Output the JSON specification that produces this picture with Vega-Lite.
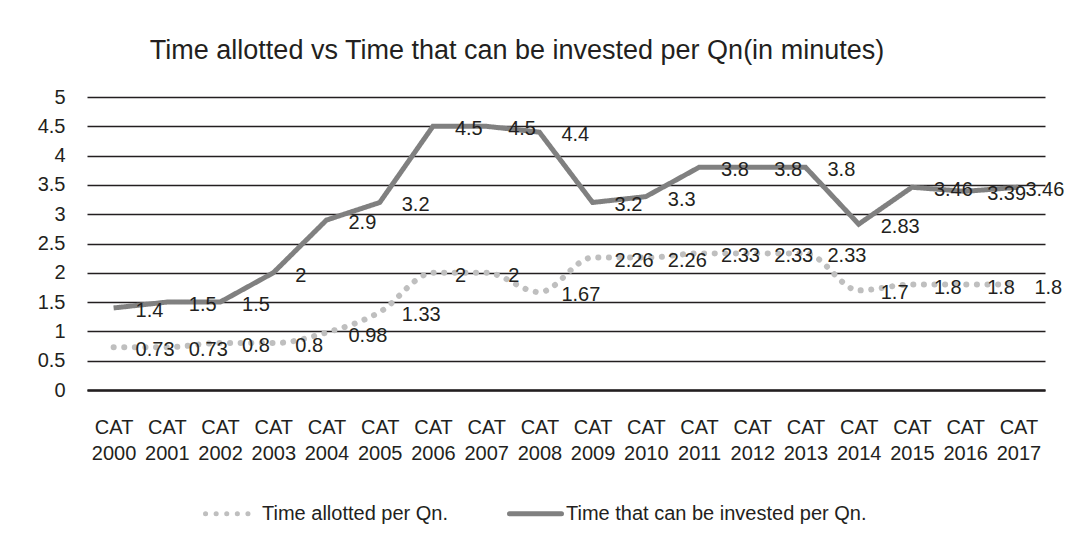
{
  "$schema": "https://vega.github.io/schema/vega-lite/v6.json",
  "width": 958,
  "height": 293,
  "autosize": {"type": "none"},
  "padding": {"left": 87, "top": 97, "right": 20, "bottom": 157},
  "background": "white",
  "title": {
    "text": "Time allotted vs Time that can be invested per Qn(in minutes)",
    "anchor": "middle",
    "frame": "group",
    "dx": -49,
    "dy": 38,
    "offset": 33,
    "baseline": "bottom",
    "fontSize": 27,
    "fontWeight": "normal",
    "font": "Liberation Sans",
    "color": "#231f20"
  },
  "config": {
    "view": {"stroke": null},
    "font": "Liberation Sans",
    "axis": {"labelColor": "#231f20", "labelFont": "Liberation Sans"},
    "legend": {"labelFont": "Liberation Sans"}
  },
  "data": {
    "values": [
      {"cat": "CAT 2000", "series": "Time allotted per Qn.", "value": 0.73},
      {"cat": "CAT 2001", "series": "Time allotted per Qn.", "value": 0.73},
      {"cat": "CAT 2002", "series": "Time allotted per Qn.", "value": 0.8},
      {"cat": "CAT 2003", "series": "Time allotted per Qn.", "value": 0.8},
      {"cat": "CAT 2004", "series": "Time allotted per Qn.", "value": 0.98},
      {"cat": "CAT 2005", "series": "Time allotted per Qn.", "value": 1.33},
      {"cat": "CAT 2006", "series": "Time allotted per Qn.", "value": 2},
      {"cat": "CAT 2007", "series": "Time allotted per Qn.", "value": 2},
      {"cat": "CAT 2008", "series": "Time allotted per Qn.", "value": 1.67},
      {"cat": "CAT 2009", "series": "Time allotted per Qn.", "value": 2.26},
      {"cat": "CAT 2010", "series": "Time allotted per Qn.", "value": 2.26},
      {"cat": "CAT 2011", "series": "Time allotted per Qn.", "value": 2.33},
      {"cat": "CAT 2012", "series": "Time allotted per Qn.", "value": 2.33},
      {"cat": "CAT 2013", "series": "Time allotted per Qn.", "value": 2.33},
      {"cat": "CAT 2014", "series": "Time allotted per Qn.", "value": 1.7},
      {"cat": "CAT 2015", "series": "Time allotted per Qn.", "value": 1.8},
      {"cat": "CAT 2016", "series": "Time allotted per Qn.", "value": 1.8},
      {"cat": "CAT 2017", "series": "Time allotted per Qn.", "value": 1.8},
      {"cat": "CAT 2000", "series": "Time that can be invested per Qn.", "value": 1.4},
      {"cat": "CAT 2001", "series": "Time that can be invested per Qn.", "value": 1.5},
      {"cat": "CAT 2002", "series": "Time that can be invested per Qn.", "value": 1.5},
      {"cat": "CAT 2003", "series": "Time that can be invested per Qn.", "value": 2},
      {"cat": "CAT 2004", "series": "Time that can be invested per Qn.", "value": 2.9},
      {"cat": "CAT 2005", "series": "Time that can be invested per Qn.", "value": 3.2},
      {"cat": "CAT 2006", "series": "Time that can be invested per Qn.", "value": 4.5},
      {"cat": "CAT 2007", "series": "Time that can be invested per Qn.", "value": 4.5},
      {"cat": "CAT 2008", "series": "Time that can be invested per Qn.", "value": 4.4},
      {"cat": "CAT 2009", "series": "Time that can be invested per Qn.", "value": 3.2},
      {"cat": "CAT 2010", "series": "Time that can be invested per Qn.", "value": 3.3},
      {"cat": "CAT 2011", "series": "Time that can be invested per Qn.", "value": 3.8},
      {"cat": "CAT 2012", "series": "Time that can be invested per Qn.", "value": 3.8},
      {"cat": "CAT 2013", "series": "Time that can be invested per Qn.", "value": 3.8},
      {"cat": "CAT 2014", "series": "Time that can be invested per Qn.", "value": 2.83},
      {"cat": "CAT 2015", "series": "Time that can be invested per Qn.", "value": 3.46},
      {"cat": "CAT 2016", "series": "Time that can be invested per Qn.", "value": 3.39},
      {"cat": "CAT 2017", "series": "Time that can be invested per Qn.", "value": 3.46}
    ]
  },
  "encoding": {
    "x": {
      "field": "cat",
      "type": "ordinal",
      "sort": null,
      "title": null,
      "axis": {
        "labelAngle": 0,
        "labelExpr": "split(datum.label, ' ')",
        "labelFontSize": 20,
        "labelLineHeight": 26.5,
        "labelPadding": 27,
        "labelBaseline": "top",
        "ticks": false,
        "grid": false,
        "domain": true,
        "domainColor": "#231f20",
        "domainWidth": 2.5
      }
    },
    "y": {
      "field": "value",
      "type": "quantitative",
      "title": null,
      "scale": {"domain": [0, 5], "nice": false, "zero": true},
      "axis": {
        "values": [0, 0.5, 1, 1.5, 2, 2.5, 3, 3.5, 4, 4.5, 5],
        "format": "~g",
        "labelFontSize": 20,
        "labelPadding": 22,
        "ticks": false,
        "domain": false,
        "grid": true,
        "gridColor": "#231f20",
        "gridWidth": 1.4,
        "gridOpacity": 1
      }
    }
  },
  "layer": [
    {
      "transform": [{"filter": "datum.series === 'Time allotted per Qn.'"}],
      "mark": {"type": "line", "interpolate": "monotone", "strokeWidth": 6, "strokeCap": "round"},
      "encoding": {
        "color": {
          "field": "series",
          "type": "nominal",
          "scale": {
            "domain": ["Time allotted per Qn.", "Time that can be invested per Qn."],
            "range": ["#bfbfbf", "#808080"]
          },
          "legend": {
            "title": null,
            "orient": "none",
            "legendX": 116,
            "legendY": 388,
            "direction": "horizontal",
            "symbolType": "stroke",
            "symbolSize": 2704,
            "symbolStrokeWidth": 5,
            "labelFontSize": 20,
            "labelColor": "#231f20",
            "labelOffset": 2,
            "columnPadding": 50,
            "labelLimit": 500,
            "encoding": {"symbols": {"strokeCap": {"value": "round"}}}
          }
        },
        "strokeDash": {
          "field": "series",
          "type": "nominal",
          "scale": {
            "domain": ["Time allotted per Qn.", "Time that can be invested per Qn."],
            "range": [[0.1, 10.5], [1, 0]]
          },
          "legend": null
        }
      }
    },
    {
      "transform": [{"filter": "datum.series !== 'Time allotted per Qn.'"}],
      "mark": {"type": "line", "interpolate": "linear", "strokeWidth": 5, "strokeCap": "butt"},
      "encoding": {
        "color": {"field": "series", "type": "nominal"},
        "strokeDash": {"field": "series", "type": "nominal"}
      }
    },
    {
      "mark": {
        "type": "text",
        "align": "left",
        "baseline": "middle",
        "dx": {"expr": "datum.cat === 'CAT 2017' ? (datum.value > 3 ? 7 : 16) : 22"},
        "dy": 3,
        "fontSize": 20,
        "color": "#231f20"
      },
      "encoding": {
        "text": {"field": "value", "type": "quantitative", "format": "~g"}
      }
    }
  ]
}
